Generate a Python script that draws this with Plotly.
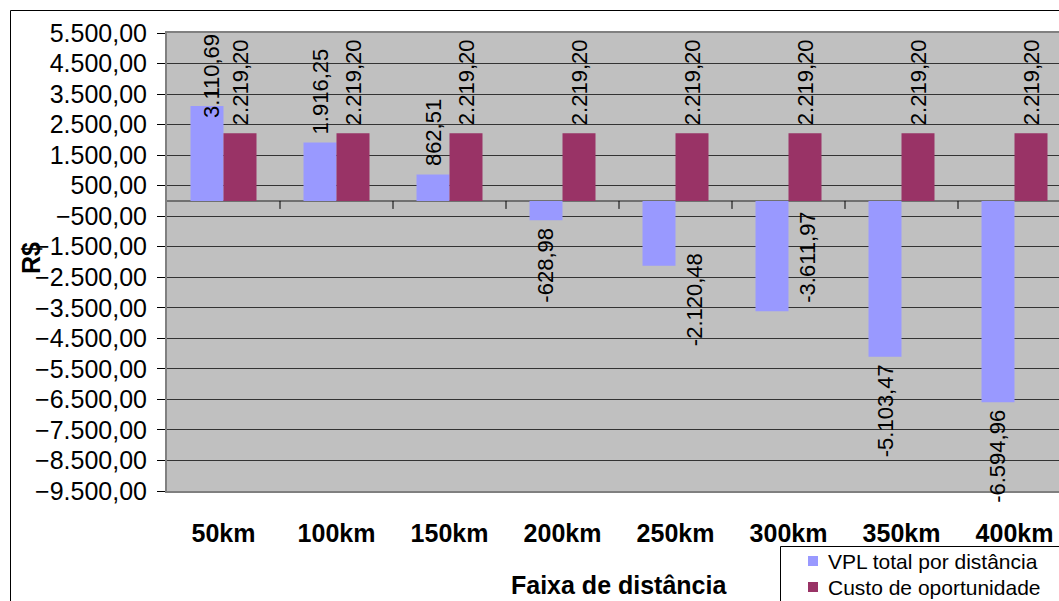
import plotly.graph_objects as go

categories = ["50km", "100km", "150km", "200km", "250km", "300km", "350km", "400km"]
vpl = [3110.69, 1916.25, 862.51, -628.98, -2120.48, -3611.97, -5103.47, -6594.96]
custo = [2219.20, 2219.20, 2219.20, 2219.20, 2219.20, 2219.20, 2219.20, 2219.20]
series_names = ["VPL total por distância", "Custo de oportunidade"]
y_title = "R$"
x_title = "Faixa de distância"

# label pixel nudges (dx, dy) for VPL value labels, mimicking the original placement
vpl_label_nudge = [(5, -20), (0, 0), (0, 0), (0, 0), (35, 20), (36, 107), (0, 0), (0, 0)]

FONT = "Liberation Sans, Arial, sans-serif"
BLUE = "#9999FF"
RED = "#993366"
COLORS = [BLUE, RED]
BARGAP = 0.416
Y_MIN, Y_MAX = -9500, 5500

# pixel geometry
L, T, B_PX = 167, 33, 491
W, H = 1059, 601
CAT_W = 113
plot_w = W - L
plot_h = B_PX - T


def px_x(px):
    return (px - L) / plot_w


def px_y(py):
    return (B_PX - py) / plot_h


def br(v):
    s = f"{v:,.2f}"
    return s.replace(",", "X").replace(".", ",").replace("X", ".")


fig = go.Figure()
for name, vals, col in zip(series_names, [vpl, custo], COLORS):
    fig.add_trace(go.Bar(name=name, x=categories, y=vals, marker=dict(color=col, line=dict(width=0))))

annotations = []
off = (1 - BARGAP) / 4
GAP = 7
for i, v in enumerate(vpl):
    dx, dy = vpl_label_nudge[i]
    annotations.append(dict(
        x=i - off, y=v, xref="x", yref="y", text=br(v), showarrow=False, textangle=-90,
        yanchor="bottom" if v >= 0 else "top",
        yshift=(GAP if v >= 0 else -GAP) + dy, xshift=dx,
        font=dict(family=FONT, size=22, color="black"), borderpad=0))
for i, v in enumerate(custo):
    annotations.append(dict(
        x=i + off, y=v, xref="x", yref="y", text=br(v), showarrow=False, textangle=-90,
        yanchor="bottom" if v >= 0 else "top", yshift=GAP if v >= 0 else -GAP,
        font=dict(family=FONT, size=22, color="black"), borderpad=0))

annotations.append(dict(
    x=px_x(31), y=px_y(258), xref="paper", yref="paper", text="<b>" + y_title + "</b>",
    showarrow=False, textangle=-90, font=dict(family=FONT, size=25, color="black"),
    xanchor="center", yanchor="middle"))
annotations.append(dict(
    x=3.5, y=px_y(585), xref="x", yref="paper", text="<b>" + x_title + "</b>",
    showarrow=False, font=dict(family=FONT, size=25, color="black"),
    xanchor="center", yanchor="middle"))

shapes = []
# category boundary tick marks on zero line
for i in range(len(categories) - 1):
    shapes.append(dict(type="line", xref="x", yref="y", x0=i + 0.5, x1=i + 0.5,
                       y0=0, y1=-(8 / plot_h) * (Y_MAX - Y_MIN),
                       line=dict(color="black", width=1)))
# outer chart border
shapes.append(dict(type="rect", xref="paper", yref="paper",
                   x0=px_x(10.5), x1=px_x(1100), y0=px_y(700), y1=px_y(10.5),
                   line=dict(color="black", width=1), fillcolor="rgba(0,0,0,0)", layer="above"))

# manual legend (box cropped by the picture edge like the original)
shapes.append(dict(type="rect", xref="paper", yref="paper",
                   x0=px_x(780.5), x1=px_x(1100), y0=px_y(700), y1=px_y(546.5),
                   line=dict(color="black", width=1), fillcolor="white", layer="above"))
legend_rows = [561, 587]
for name, col, ry in zip(series_names, COLORS, legend_rows):
    shapes.append(dict(type="rect", xref="paper", yref="paper",
                       x0=px_x(808), x1=px_x(818), y0=px_y(ry + 5), y1=px_y(ry - 5),
                       line=dict(width=0), fillcolor=col, layer="above"))
    annotations.append(dict(
        x=px_x(827), y=px_y(ry), xref="paper", yref="paper", text=name, showarrow=False,
        xanchor="left", yanchor="middle", font=dict(family=FONT, size=21, color="black"),
        borderpad=0))

fig.update_layout(
    width=W, height=H,
    margin=dict(l=L, r=0, t=T, b=H - B_PX, pad=0, autoexpand=False),
    paper_bgcolor="white", plot_bgcolor="#C0C0C0",
    separators=",.",
    barmode="group", bargap=BARGAP, bargroupgap=0,
    font=dict(family=FONT, color="black"),
    showlegend=False,
    annotations=annotations,
    shapes=shapes,
)

fig.update_xaxes(
    type="category", range=[-0.5, -0.5 + plot_w / CAT_W],
    showgrid=False, showline=True, mirror=True, linecolor="#808080", linewidth=2,
    ticks="", tickfont=dict(family=FONT, size=25, color="black", weight="bold"),
    ticklabelstandoff=19,
)
fig.update_yaxes(
    range=[Y_MIN, Y_MAX], tick0=500, dtick=1000, tickformat=",.2f",
    showgrid=True, gridcolor="#333333", gridwidth=1,
    zeroline=True, zerolinecolor="#707070", zerolinewidth=2,
    showline=True, linecolor="#808080", linewidth=2,
    ticks="outside", ticklen=8, tickcolor="black", tickwidth=1,
    tickfont=dict(family=FONT, size=25, color="black"),
    ticklabelstandoff=5,
)

fig.write_html("out.html")
